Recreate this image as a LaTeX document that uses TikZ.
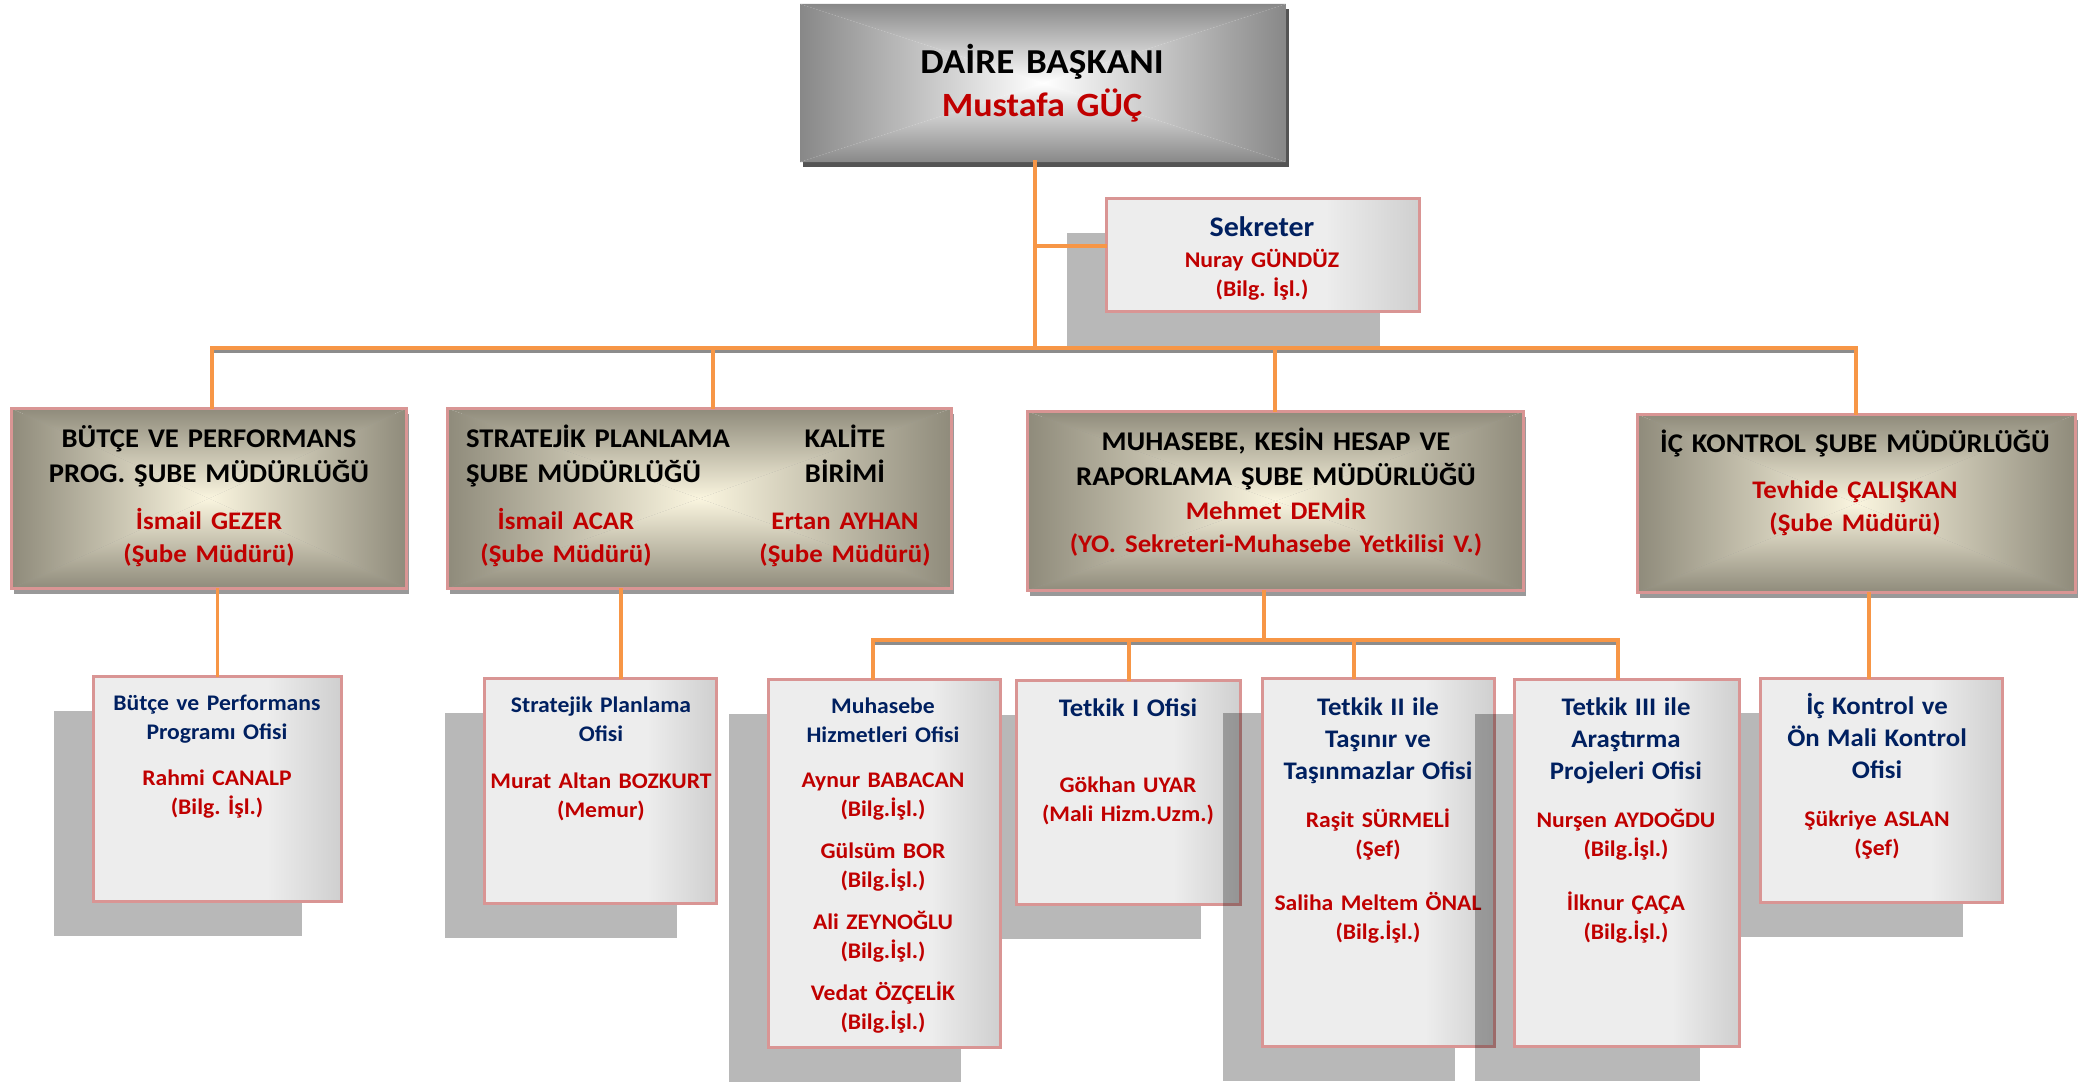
\documentclass[tikz,border=0pt]{standalone}
\usepackage{fontspec}
\setmainfont{Carlito}[FakeStretch=1.06]
\usetikzlibrary{shadows}
\frenchspacing

\definecolor{turuncu}{HTML}{F79646}
\definecolor{pembe}{HTML}{D99594}
\definecolor{lacivert}{HTML}{002060}
\definecolor{kirmizi}{HTML}{C00000}
\definecolor{ofisacik}{HTML}{EDEDED}
\definecolor{ofiskoyu}{HTML}{CFCFCF}
\definecolor{bejorta}{HTML}{FAF5DF}
\definecolor{bejkenar}{HTML}{8F8B7B}
\definecolor{grikenar}{HTML}{888888}

\pgfdeclarehorizontalshading{ofisrenk}{100bp}{color(0bp)=(ofisacik); color(25bp)=(ofisacik);
  color(60bp)=(ofisacik); color(75bp)=(ofiskoyu); color(100bp)=(ofiskoyu)}

\newcommand{\mudurad}{\color{kirmizi}\fontsize{25.3}{33}\selectfont}

\begin{document}
\begin{tikzpicture}[x=1pt, y=-1pt,
    dortyon/.style 2 args={path picture={
        \path (path picture bounding box.north west) coordinate (kb)
              (path picture bounding box.north east) coordinate (kd)
              (path picture bounding box.south west) coordinate (gb)
              (path picture bounding box.south east) coordinate (gd)
              (path picture bounding box.center) coordinate (om);
        \shade[top color=#2, bottom color=#1] (kb) -- (kd) -- (om) -- cycle;
        \shade[top color=#1, bottom color=#2] (gb) -- (gd) -- (om) -- cycle;
        \shade[left color=#2, right color=#1] (kb) -- (gb) -- (om) -- cycle;
        \shade[left color=#1, right color=#2] (kd) -- (gd) -- (om) -- cycle;}},
    baskan/.style={fill=white, minimum width=486pt, minimum height=158pt, inner sep=0pt,
        dortyon={white}{grikenar},
        drop shadow={shadow xshift=3pt, shadow yshift=-5pt, fill=black, opacity=.67}},
    mudurluk/.style={draw=pembe, line width=3pt, inner sep=0pt,
        dortyon={bejorta}{bejkenar},
        drop shadow={shadow xshift=2pt, shadow yshift=-5pt, fill=black, opacity=.4}},
    ofis/.style={draw=pembe, line width=2.5pt, inner sep=0pt, shade, shading=ofisrenk,
        drop shadow={shadow xshift=-40pt, shadow yshift=-34pt, fill=black, opacity=.28}},
    hat/.style={draw=turuncu, line width=3.5pt, line cap=rect},
    yatayhat/.style={hat, preaction={draw=black!45, line width=3.5pt,
        transform canvas={yshift=-3.5pt}}},
    yazi/.style={anchor=base, align=center, inner sep=0pt, text width=600pt},
    buyuk/.style={font=\bfseries\fontsize{35}{43}\selectfont},
    orta/.style={font=\bfseries\fontsize{27}{33}\selectfont},
    kucuk/.style={font=\bfseries\fontsize{22.3}{29}\selectfont},
    ]
    \useasboundingbox (0,0) rectangle (2084,1081);

    % daire baskani ve sekreter
    \node[baskan] (baskan) at (1043,83) {};
    \node[yazi, buyuk] (baskanyazi) at (1042,74)
        {DAİRE BAŞKANI\\\color{kirmizi}\fontsize{34}{43}\selectfont Mustafa GÜÇ};
    \node[ofis, minimum width=313pt, minimum height=113pt] (sekreter) at (1263,255) {};
    \node[yazi, kucuk] (sekreteryazi) at (1262,236)
        {\fontsize{28.3}{29}\selectfont\color{lacivert}Sekreter\\[2pt]\fontsize{22.4}{29}\selectfont\color{kirmizi}Nuray GÜNDÜZ\\(Bilg. İşl.)};

    % sube mudurlukleri
    \node[mudurluk, minimum width=395pt, minimum height=180pt] (b1) at (209,498.5) {};
    \node[yazi, orta] (b1yazi) at (209,447)
        {BÜTÇE VE PERFORMANS\\[2pt]PROG. ŞUBE MÜDÜRLÜĞÜ\\[14pt]\mudurad İsmail GEZER\\(Şube Müdürü)};
    \node[mudurluk, minimum width=504pt, minimum height=180pt] (b2) at (699.5,498.5) {};
    \node[yazi, orta, anchor=base west, align=left] (b2sol) at (466,447)
        {STRATEJİK PLANLAMA\\[2pt]ŞUBE MÜDÜRLÜĞÜ};
    \node[yazi, orta] (b2solad) at (566,529) {\mudurad İsmail ACAR\\(Şube Müdürü)};
    \node[yazi, orta] (b2sag) at (845,447)
        {KALİTE\\[2pt]BİRİMİ\\[14pt]\mudurad Ertan AYHAN\\(Şube Müdürü)};
    \node[mudurluk, minimum width=496pt, minimum height=179pt] (b3) at (1275.5,501) {};
    \node[yazi, orta] (b3yazi) at (1276,450)
        {MUHASEBE, KESİN HESAP VE\\[2pt]RAPORLAMA ŞUBE MÜDÜRLÜĞÜ\\[1pt]\mudurad Mehmet DEMİR\\(YO. Sekreteri-Muhasebe Yetkilisi V.)};
    \node[mudurluk, minimum width=438pt, minimum height=178pt] (b4) at (1856.5,503.5) {};
    \node[yazi, orta] (b4yazi) at (1855,452)
        {İÇ KONTROL ŞUBE MÜDÜRLÜĞÜ\\[13pt]\mudurad Tevhide ÇALIŞKAN\\(Şube Müdürü)};

    % ofisler
    \node[ofis, minimum width=248pt, minimum height=225pt] (c1) at (217.5,789) {};
    \node[yazi, kucuk, text=lacivert] (c1yazi) at (217,710)
        {Bütçe ve Performans\\Programı Ofisi\\[17pt]\color{kirmizi}Rahmi CANALP\\(Bilg. İşl.)};
    \node[ofis, minimum width=232pt, minimum height=225pt] (c2) at (600.5,791) {};
    \node[yazi, kucuk, text=lacivert] (c2yazi) at (601,712)
        {Stratejik Planlama\\Ofisi\\[18pt]\color{kirmizi}Murat Altan BOZKURT\\(Memur)};
    \node[ofis, minimum width=224pt, minimum height=224pt] (c4) at (1128.5,792.5) {};
    \node[yazi, kucuk, text=lacivert] (c4yazi) at (1128,716)
        {\fontsize{25.3}{29}\selectfont Tetkik I Ofisi\\[47pt]\fontsize{22.3}{29}\selectfont\color{kirmizi}Gökhan UYAR\\(Mali Hizm.Uzm.)};
    \node[ofis, minimum width=232pt, minimum height=368pt] (c3) at (884.5,863.5) {};
    \node[yazi, kucuk, text=lacivert] (c3yazi) at (883,713)
        {Muhasebe\\Hizmetleri Ofisi\\[16pt]\color{kirmizi}Aynur BABACAN\\(Bilg.İşl.)\\[13pt]Gülsüm BOR\\(Bilg.İşl.)\\[13pt]Ali ZEYNOĞLU\\(Bilg.İşl.)\\[13pt]Vedat ÖZÇELİK\\(Bilg.İşl.)};
    \node[ofis, minimum width=232pt, minimum height=368pt] (c5) at (1378.5,862.5) {};
    \node[yazi, kucuk, text=lacivert] (c5yazi) at (1378,715)
        {\fontsize{25.3}{29}\selectfont Tetkik II ile\\[3pt]Taşınır ve\\[3pt]Taşınmazlar Ofisi\\[19pt]\fontsize{22.3}{29}\selectfont\color{kirmizi}Raşit SÜRMELİ\\(Şef)\\[25pt]Saliha Meltem ÖNAL\\(Bilg.İşl.)};
    \node[ofis, minimum width=242pt, minimum height=224pt] (c7) at (1881.5,790.5) {};
    \node[yazi, kucuk, text=lacivert] (c7yazi) at (1877,714)
        {\fontsize{25.3}{29}\selectfont İç Kontrol ve\\[3pt]Ön Mali Kontrol\\[3pt]Ofisi\\[19pt]\fontsize{22.3}{29}\selectfont\color{kirmizi}Şükriye ASLAN\\(Şef)};
    \node[ofis, minimum width=225pt, minimum height=367pt] (c6) at (1627,863) {};
    \node[yazi, kucuk, text=lacivert] (c6yazi) at (1626,715)
        {\fontsize{25.3}{29}\selectfont Tetkik III ile\\[3pt]Araştırma\\[3pt]Projeleri Ofisi\\[19pt]\fontsize{22.3}{29}\selectfont\color{kirmizi}Nurşen AYDOĞDU\\(Bilg.İşl.)\\[25pt]İlknur ÇAÇA\\(Bilg.İşl.)};

    % baglantilar
    \coordinate (kol) at (1035,348);
    \coordinate (sekkol) at (1035,246);
    \coordinate (d1) at (212,348);
    \coordinate (d2) at (713,348);
    \coordinate (d3) at (1275,348);
    \coordinate (d4) at (1856,348);
    \draw[yatayhat] (d1) -- (d4);
    \draw[hat] (baskan.south -| kol) -- (kol);
    \draw[hat] (sekkol) -- (sekreter.west |- sekkol);
    \draw[hat] (d1) -- (d1 |- b1.north);
    \draw[hat] (d2) -- (d2 |- b2.north);
    \draw[hat] (d3) -- (d3 |- b3.north);
    \draw[hat] (d4) -- (d4 |- b4.north);

    \coordinate (k2) at (621,590);
    \coordinate (k3) at (1264,640);
    \coordinate (k4) at (1869,594);
    \coordinate (s3) at (873,640);
    \coordinate (s4) at (1129,640);
    \coordinate (s5) at (1354,640);
    \coordinate (s6) at (1618,640);
    \draw[hat] (c1.north |- b1.south) -- (c1.north);
    \draw[hat] (k2 |- b2.south) -- (k2 |- c2.north);
    \draw[yatayhat] (s3) -- (s6);
    \draw[hat] (k3 |- b3.south) -- (k3);
    \draw[hat] (s3) -- (s3 |- c3.north);
    \draw[hat] (s4) -- (s4 |- c4.north);
    \draw[hat] (s5) -- (s5 |- c5.north);
    \draw[hat] (s6) -- (s6 |- c6.north);
    \draw[hat] (k4 |- b4.south) -- (k4 |- c7.north);
\end{tikzpicture}
\end{document}
